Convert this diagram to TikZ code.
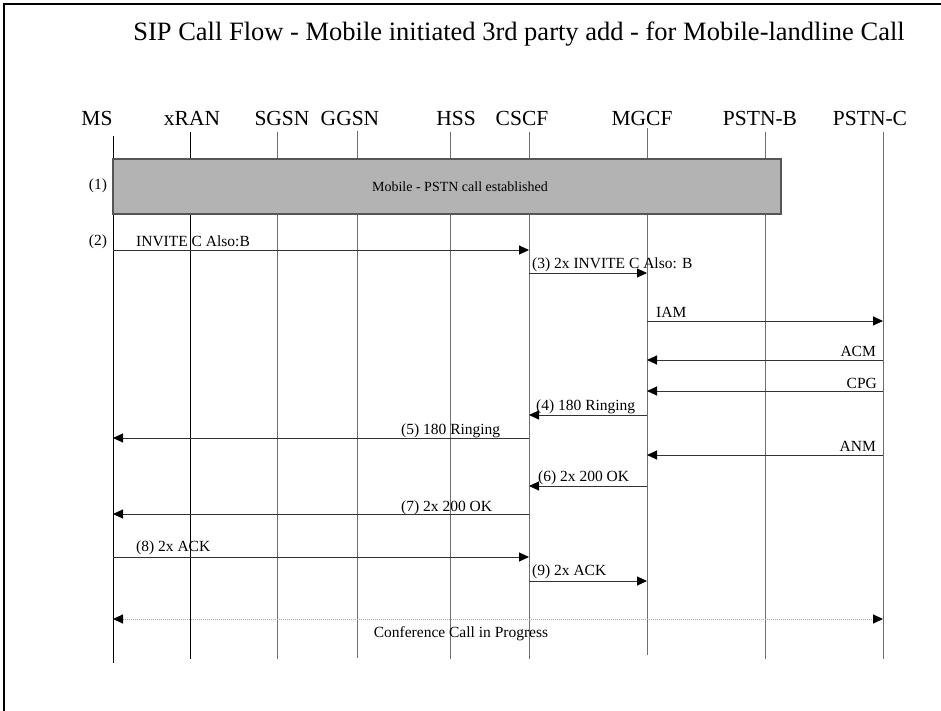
\documentclass[tikz,border=0pt]{standalone}
\usepackage{fontspec}
\setmainfont{Liberation Serif}
\usetikzlibrary{arrows.meta, positioning}
\definecolor{lifegray}{RGB}{110, 110, 110}
\definecolor{boxgray}{RGB}{179, 179, 179}
\definecolor{boxedge}{RGB}{85, 85, 85}
\definecolor{confgray}{RGB}{170, 170, 170}

\begin{document}
\begin{tikzpicture}[x=1pt, y=-1pt,
        entity/.style={anchor=base, inner sep=0, font=\fontsize{21.5}{24}\selectfont},
        life/.style={draw=lifegray, line width=1pt},
        lifeblack/.style={draw=black, line width=1pt},
        msg/.style={draw=black!80, line width=1pt, -{Triangle[length=10pt, width=9pt, color=black]}},
        lbl/.style={inner sep=0, font=\fontsize{15.5}{18}\selectfont},
        conf/.style={draw=confgray, line width=1pt, densely dotted,
            {Triangle[length=10pt, width=9pt, color=black]}-{Triangle[length=10pt, width=9pt, color=black]}}
    ]
        \useasboundingbox (0,0) rectangle (941,711);
        % frame
        \draw[line width=2pt] (4,711) -- (4,4) -- (941,4);

        % title
        \node[inner sep=0, font=\fontsize{26.5}{30}\selectfont] (title) at (519,34)
            {SIP Call Flow - Mobile initiated 3rd party add - for Mobile-landline Call};

        % entity heads
        \node[entity] (mshead) at (97,126) {MS};
        \node[entity] (xranhead) at (192,126) {xRAN};
        \node[entity] (sgsnhead) at (282,126) {SGSN};
        \node[entity] (ggsnhead) at (350,126) {GGSN};
        \node[entity] (hsshead) at (456,126) {HSS};
        \node[entity] (cscfhead) at (522,126) {CSCF};
        \node[entity] (mgcfhead) at (642,126) {MGCF};
        \node[entity] (pstnbhead) at (760,126) {PSTN-B};
        \node[entity] (pstnchead) at (870,126) {PSTN-C};

        % lifelines
        \coordinate (ms) at (113,136); \coordinate (xran) at (190,132); \coordinate (sgsn) at (277,132);
        \coordinate (ggsn) at (357,131); \coordinate (hss) at (450,132); \coordinate (cscf) at (529,132);
        \coordinate (mgcf) at (647,128); \coordinate (pstnb) at (765,132); \coordinate (pstnc) at (883,132);
        \draw[lifeblack] (ms) -- (ms |- 0,663); \draw[lifeblack] (xran) -- (xran |- 0,659);
        \draw[life] (sgsn) -- (sgsn |- 0,659); \draw[life] (ggsn) -- (ggsn |- 0,658);
        \draw[life] (hss) -- (hss |- 0,659); \draw[life] (cscf) -- (cscf |- 0,659);
        \draw[life] (mgcf) -- (mgcf |- 0,655); \draw[life] (pstnb) -- (pstnb |- 0,659);
        \draw[life] (pstnc) -- (pstnc |- 0,659);

        % (1) established call
        \filldraw[fill=boxgray, draw=boxedge, line width=1.5pt] (ms |- 0,159) rectangle (781,214);
        \node[lbl, font=\fontsize{14}{16}\selectfont] (est) at (460,187) {Mobile - PSTN call established};
        \node[lbl] (n1) at (98,186) {(1)};

        % (2) - (3) invite
        \node[lbl] (n2) at (98,242) {(2)};
        \draw[msg] (ms |- 0,250) -- (cscf |- 0,250);
        \node[lbl, anchor=west] (m2) at (136,241) {INVITE C Also:B};
        \draw[msg] (cscf |- 0,273) -- (mgcf |- 0,273);
        \node[lbl, anchor=west] (m3) at (532,265) {(3) 2x INVITE C Also: B};

        % ISUP towards PSTN-C
        \draw[msg] (mgcf |- 0,321) -- (pstnc |- 0,321);
        \node[lbl, anchor=west] (iam) at (656,312) {IAM};
        \draw[msg] (pstnc |- 0,360) -- (mgcf |- 0,360);
        \node[lbl, anchor=east] (acm) at (876,351) {ACM};
        \draw[msg] (pstnc |- 0,391) -- (mgcf |- 0,391);
        \node[lbl, anchor=east] (cpg) at (877,383) {CPG};

        % (4) - (5) ringing
        \draw[msg] (mgcf |- 0,415) -- (cscf |- 0,415);
        \node[lbl, anchor=west] (m4) at (536,407) {(4) 180 Ringing};
        \draw[msg] (cscf |- 0,438) -- (ms |- 0,438);
        \node[lbl, anchor=west] (m5) at (401,431) {(5) 180 Ringing};
        \draw[msg] (pstnc |- 0,455) -- (mgcf |- 0,455);
        \node[lbl, anchor=east] (anm) at (876,446) {ANM};

        % (6) - (7) 200 OK
        \draw[msg] (mgcf |- 0,486) -- (cscf |- 0,486);
        \node[lbl, anchor=west] (m6) at (538,478) {(6) 2x 200 OK};
        \draw[msg] (cscf |- 0,514) -- (ms |- 0,514);
        \node[lbl, anchor=west] (m7) at (401,508) {(7) 2x 200 OK};

        % (8) - (9) ack
        \draw[msg] (ms |- 0,557) -- (cscf |- 0,557);
        \node[lbl, anchor=west] (m8) at (136,548) {(8) 2x ACK};
        \draw[msg] (cscf |- 0,581) -- (mgcf |- 0,581);
        \node[lbl, anchor=west] (m9) at (532,572) {(9) 2x ACK};

        % conference
        \draw[conf] (ms |- 0,619) -- (pstnc |- 0,619);
        \node[lbl] (cc) at (461,634) {Conference Call in Progress};
    \end{tikzpicture}
\end{document}
